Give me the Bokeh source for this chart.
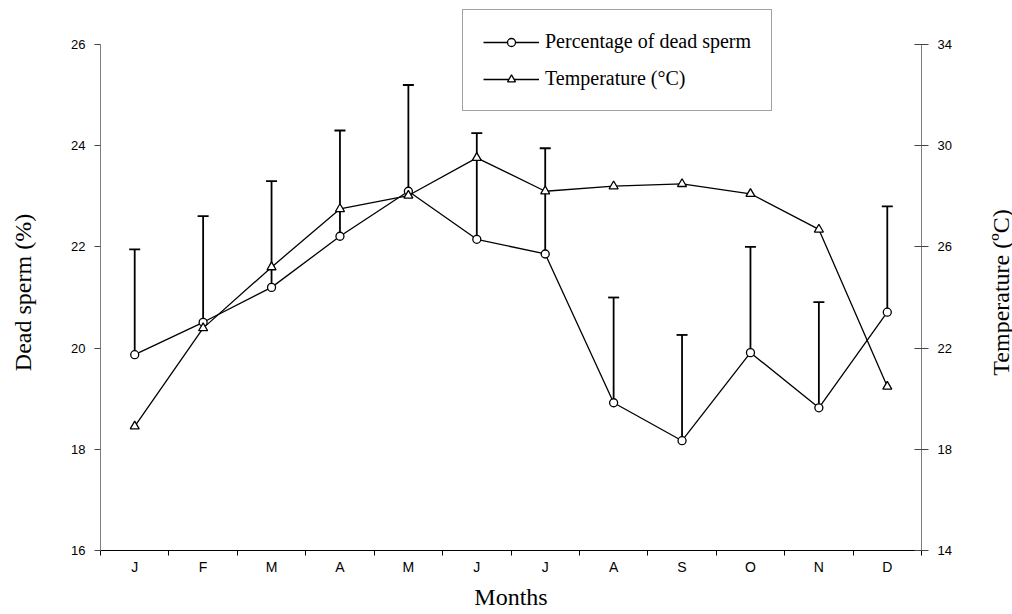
import math
from bokeh.plotting import figure
from bokeh.layouts import row
from bokeh.models import (Range1d, LinearAxis, FixedTicker, Whisker, TeeHead,
                          ColumnDataSource, Legend, LegendItem, Label)
from bokeh.embed import file_html
from bokeh.resources import INLINE

months = ["J", "F", "M", "A", "M", "J", "J", "A", "S", "O", "N", "D"]
dead_sperm = [19.87, 20.51, 21.2, 22.21, 23.1, 22.15, 21.86, 18.92, 18.17, 19.91, 18.82, 20.71]
dead_sperm_upper = [21.95, 22.61, 23.3, 24.3, 25.2, 24.25, 23.95, 21.0, 20.26, 22.0, 20.91, 22.8]
temperature = [18.91, 22.79, 25.2, 27.5, 28.03, 29.52, 28.2, 28.4, 28.49, 28.1, 26.69, 20.48]
left_ticks = [16, 18, 20, 22, 24, 26]
right_ticks = [14, 18, 22, 26, 30, 34]

left_title = "Dead sperm (%)"
right_title = "Temperature (ºC)"
x_title = "Months"

# frame extends above the axes' top so the legend box is not clipped
AXIS_PX = 506          # pixel height of the axes (16..26 / 14..34)
TOP_EXTRA_PX = 40      # extra frame room above the top tick
left_lo, left_hi = 16, 26
right_lo, right_hi = 14, 34
left_top = left_hi + (left_hi - left_lo) * TOP_EXTRA_PX / AXIS_PX
right_top = right_hi + (right_hi - right_lo) * TOP_EXTRA_PX / AXIS_PX

H = 614
BOTTOM_BORDER = 64
SIDE_L = 50
SIDE_R = 45
MAIN_W = 1012 - SIDE_L - SIDE_R

xpos = [i + 0.5 for i in range(len(months))]
src = ColumnDataSource(dict(x=xpos, ds=dead_sperm, up=dead_sperm_upper, t=temperature))

p = figure(width=MAIN_W, height=H, output_backend="svg", toolbar_location=None,
           x_range=Range1d(0, len(months)), y_range=Range1d(left_lo, left_top),
           min_border_left=50, min_border_right=MAIN_W - 50 - 821,
           min_border_top=44 - TOP_EXTRA_PX, min_border_bottom=BOTTOM_BORDER)
p.outline_line_color = None
p.xgrid.visible = False
p.ygrid.visible = False
p.extra_y_ranges = {"temp": Range1d(right_lo, right_top)}

serif = "Liberation Serif"
sans = "Liberation Sans"

# x axis
xa = p.xaxis[0]
xa.ticker = FixedTicker(ticks=xpos, minor_ticks=list(range(len(months) + 1)))
xa.major_label_overrides = {x: m for x, m in zip(xpos, months)}
xa.major_tick_line_color = None
xa.major_tick_out = 0
xa.major_tick_in = 0
xa.minor_tick_out = 5
xa.minor_tick_in = 0
xa.minor_tick_line_color = "black"
xa.axis_line_color = "black"
xa.major_label_text_font = sans
xa.major_label_text_font_size = "14px"
xa.major_label_text_color = "black"
xa.major_label_standoff = 3
xa.axis_label = x_title
xa.axis_label_text_font = serif
xa.axis_label_text_font_size = "24px"
xa.axis_label_text_font_style = "normal"
xa.axis_label_text_color = "black"
xa.axis_label_standoff = 6

# left axis
ya = p.yaxis[0]
ya.ticker = FixedTicker(ticks=left_ticks)
ya.bounds = (left_lo, left_hi)
ya.minor_tick_line_color = None
ya.major_tick_out = 6
ya.major_tick_in = 0
ya.axis_line_color = "#7f7f7f"
ya.major_tick_line_color = "#444444"
ya.major_label_text_font = sans
ya.major_label_text_font_size = "13px"
ya.major_label_text_color = "black"
ya.major_label_standoff = 9

# right axis
ra = LinearAxis(y_range_name="temp", ticker=FixedTicker(ticks=right_ticks))
ra.bounds = (right_lo, right_hi)
ra.minor_tick_line_color = None
ra.major_tick_out = 7
ra.major_tick_in = 7
ra.axis_line_color = "#7f7f7f"
ra.major_tick_line_color = "#444444"
ra.major_label_text_font = sans
ra.major_label_text_font_size = "13px"
ra.major_label_text_color = "black"
ra.major_label_standoff = 9
p.add_layout(ra, "right")

# error bars
wh = Whisker(source=src, base="x", upper="up", lower="ds", dimension="height",
             line_color="black", line_width=1.8,
             upper_head=TeeHead(size=11, line_color="black", line_width=1.8),
             lower_head=None)
p.add_layout(wh)

# dead sperm series
l1 = p.line("x", "ds", source=src, line_color="black", line_width=1.3)
s1 = p.scatter("x", "ds", source=src, marker="circle", size=8,
               fill_color="white", line_color="black", line_width=1.3)

# temperature series
l2 = p.line("x", "t", source=src, y_range_name="temp", line_color="black", line_width=1.3)
s2 = p.scatter("x", "t", source=src, y_range_name="temp", marker="triangle", size=9,
               fill_color="white", line_color="black", line_width=1.3)

legend = Legend(items=[LegendItem(label="Percentage of dead sperm", renderers=[l1, s1]),
                       LegendItem(label="Temperature (°C)", renderers=[l2, s2])],
                location=(362, 439), orientation="vertical",
                label_text_font=serif, label_text_font_size="20px",
                label_text_color="black",
                glyph_width=56, glyph_height=20, label_height=20,
                spacing=14, padding=20, label_standoff=6,
                border_line_color="#444444", border_line_width=1,
                background_fill_color="white", background_fill_alpha=1)
p.add_layout(legend, "center")


def side_title(width, text, cx, cy_from_top):
    # row() aligns this frame with the main frame, whose bottom is at H - BOTTOM_BORDER
    f = figure(width=width, height=H, output_backend="svg", toolbar_location=None,
               x_range=Range1d(0, 1), y_range=Range1d(0, 1),
               x_axis_type=None, y_axis_type=None, min_border=0)
    f.outline_line_color = None
    f.grid.visible = False
    f.add_layout(Label(x=cx, y=(H - BOTTOM_BORDER) - cy_from_top,
                       x_units="screen", y_units="screen",
                       text=text, angle=math.pi / 2, text_align="center",
                       text_baseline="middle", text_font=serif,
                       text_font_size="24px", text_color="black"))
    return f


left_fig = side_title(SIDE_L, left_title, 22, 292)
right_fig = side_title(SIDE_R, right_title, 33, 292)

layout = row(left_fig, p, right_fig, spacing=0)
open("out.html", "w").write(file_html(layout, INLINE))
